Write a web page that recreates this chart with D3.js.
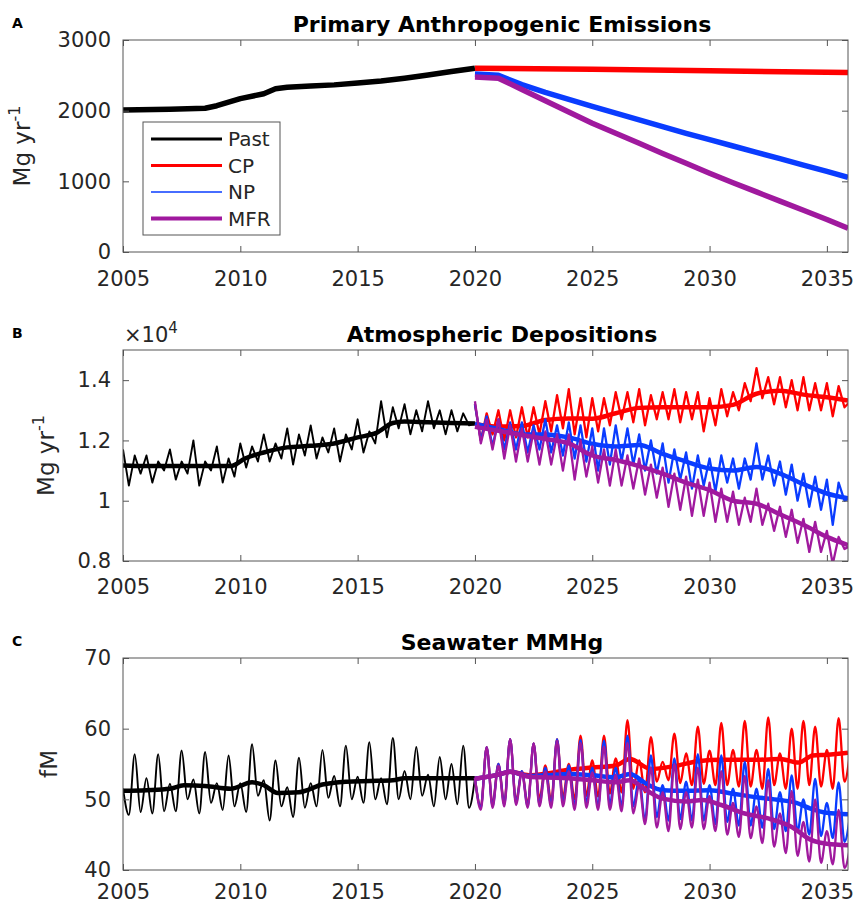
<!DOCTYPE html>
<html>
<head>
<meta charset="utf-8">
<script src="https://cdn.jsdelivr.net/npm/d3@7"></script>
<style>
  body { margin: 0; background: #fff; }
  svg text { font-family: "DejaVu Sans", sans-serif; fill: #262626; }
</style>
</head>
<body>
<svg id="chart" width="857" height="907"></svg>
<script>
// ---------------- data ----------------
var xTicks = [2005, 2010, 2015, 2020, 2025, 2030, 2035]
var xExtent = [2005, 2035.9]

var scenarioNames = ["Past", "CP", "NP", "MFR"]
var scenarioColors = ["#000000", "#ff0000", "#0a3cff", "#a0199e"]

// A: primary anthropogenic emissions, Mg/yr  [year, value]
var emisPast = [[2005,2010],[2007,2020],[2008.5,2035],[2009,2070],[2010,2170],[2011,2240],[2011.5,2310],
  [2012,2330],[2013,2350],[2014,2365],[2015,2390],[2016,2420],[2017,2460],[2018,2505],[2019,2555],[2020,2600]]
var emisCP = [[2020,2600],[2025,2585],[2030,2565],[2035.9,2540]]
var emisNP = [[2020,2520],[2021,2500],[2022,2370],[2023,2260],[2024,2160],[2025,2060],[2026,1965],[2027,1870],
  [2028,1775],[2029,1680],[2030,1590],[2031,1500],[2032,1410],[2033,1320],[2034,1230],[2035,1140],[2035.9,1055]]
var emisMFR = [[2020,2475],[2021,2460],[2022,2300],[2023,2140],[2024,1980],[2025,1822],[2026,1680],[2027,1540],
  [2028,1395],[2029,1255],[2030,1114],[2031,980],[2032,850],[2033,720],[2034,590],[2035,460],[2035.9,335]]

// B: atmospheric deposition, x10^4 Mg/yr, quarterly values (thin) and trend (thick)
var depPastQ = [
  1.17,1.05,1.15,1.09, 1.15,1.06,1.13,1.10, 1.17,1.07,1.13,1.09, 1.20,1.05,1.13,1.10,
  1.18,1.06,1.14,1.08, 1.19,1.11,1.18,1.13, 1.22,1.13,1.19,1.14, 1.24,1.12,1.22,1.15,
  1.25,1.14,1.21,1.16, 1.24,1.13,1.22,1.17, 1.27,1.16,1.23,1.19, 1.33,1.21,1.31,1.24,
  1.32,1.22,1.30,1.23, 1.33,1.24,1.30,1.22, 1.30,1.23,1.29,1.25, 1.255]
var depCPQ = [
  1.32,1.20,1.29,1.22, 1.30,1.20,1.30,1.21, 1.31,1.21,1.31,1.22, 1.33,1.23,1.35,1.24,
  1.37,1.22,1.34,1.21, 1.34,1.23,1.34,1.25, 1.36,1.27,1.36,1.26, 1.37,1.25,1.35,1.27,
  1.36,1.27,1.37,1.26, 1.36,1.27,1.36,1.23, 1.34,1.25,1.37,1.28, 1.36,1.30,1.39,1.33,
  1.44,1.34,1.41,1.32, 1.41,1.31,1.40,1.30, 1.41,1.30,1.39,1.30, 1.39,1.28,1.38,1.31, 1.33]
var depNPQ = [
  1.32,1.20,1.28,1.18, 1.27,1.17,1.26,1.17, 1.26,1.16,1.25,1.17, 1.27,1.16,1.25,1.15,
  1.26,1.14,1.25,1.13, 1.24,1.10,1.24,1.12, 1.25,1.13,1.24,1.12, 1.22,1.10,1.20,1.09,
  1.19,1.06,1.17,1.07, 1.16,1.04,1.15,1.05, 1.14,1.03,1.15,1.06, 1.14,1.04,1.14,1.07,
  1.19,1.07,1.15,1.05, 1.13,1.02,1.12,1.00, 1.09,0.98,1.08,0.97, 1.07,0.92,1.06,1.00, 1.01]
var depMFRQ = [
  1.33,1.19,1.27,1.17, 1.27,1.14,1.25,1.13, 1.24,1.13,1.23,1.12, 1.23,1.12,1.22,1.10,
  1.22,1.07,1.20,1.08, 1.18,1.06,1.17,1.05, 1.17,1.05,1.15,1.04, 1.14,1.02,1.12,1.01,
  1.11,0.98,1.09,0.97, 1.08,0.95,1.07,0.95, 1.06,0.93,1.04,0.93, 1.03,0.92,1.01,0.93,
  1.04,0.92,0.99,0.90, 0.98,0.88,0.97,0.86, 0.94,0.83,0.93,0.83, 0.90,0.79,0.88,0.84, 0.85]
var depPastT = [[2005,1.117],[2006,1.115],[2007,1.115],[2008,1.115],[2009,1.115],[2009.6,1.115],[2010.2,1.14],
  [2011,1.16],[2012,1.177],[2013,1.182],[2014,1.19],[2015,1.21],[2015.8,1.225],[2016.5,1.258],[2017,1.263],
  [2018,1.26],[2019,1.258],[2020,1.256]]
var depCPT = [[2020,1.255],[2021,1.246],[2022,1.248],[2023,1.268],[2024,1.273],[2025,1.272],[2026,1.29],
  [2027,1.308],[2028,1.31],[2029,1.31],[2030,1.31],[2031,1.318],[2032,1.355],[2033,1.365],[2034,1.352],
  [2035,1.343],[2035.9,1.332]]
var depNPT = [[2020,1.255],[2021,1.238],[2022,1.22],[2023,1.22],[2024,1.21],[2025,1.189],[2026,1.18],
  [2027,1.185],[2028,1.155],[2029,1.13],[2030,1.107],[2031,1.1],[2032,1.112],[2033,1.09],[2034,1.055],
  [2035,1.024],[2035.9,1.008]]
var depMFRT = [[2020,1.245],[2021,1.232],[2022,1.218],[2023,1.205],[2024,1.19],[2025,1.15],[2026,1.135],
  [2027,1.115],[2028,1.09],[2029,1.06],[2030,1.035],[2031,1.0],[2032,0.99],[2033,0.955],[2034,0.92],
  [2035,0.88],[2035.9,0.853]]

// C: seawater MMHg, fM
var mmhgPastQ = [
  51.5,47.8,56.4,48.2, 53.0,48.0,56.4,48.3, 52.2,48.3,56.9,50.0, 52.8,48.0,56.7,49.5,
  52.3,48.5,56.2,49.0, 52.3,48.2,57.8,50.5, 52.7,47.0,55.5,49.0, 51.7,47.5,55.9,48.8,
  52.3,49.0,57.0,50.2, 53.3,49.0,57.6,50.0, 53.2,49.5,58.1,50.0, 53.0,49.3,58.7,50.0,
  54.0,50.0,57.4,50.5, 53.5,49.0,56.0,50.0, 55.0,49.3,57.6,48.8, 53.0]
var mmhgCPQ = [
  53.0,49.0,57.4,49.3, 55.0,49.6,58.5,49.8, 54.0,49.3,57.9,50.0, 54.8,49.8,58.5,50.3,
  55.0,50.0,59.0,50.5, 55.5,50.4,59.0,50.8, 55.8,51.0,61.2,51.5, 55.5,51.0,58.8,52.5,
  55.3,52.7,59.3,52.3, 56.5,52.0,60.3,52.2, 56.9,52.0,60.8,52.0, 57.0,51.8,61.1,51.8,
  57.0,51.5,61.6,52.0, 56.5,51.5,60.0,51.5, 61.1,52.0,60.3,51.8, 57.0,51.5,61.5,52.5, 57.0]
var mmhgNPQ = [
  53.0,48.8,57.4,49.0, 55.0,49.3,58.5,49.5, 54.0,49.0,57.9,49.3, 54.5,49.2,58.5,49.5,
  54.8,49.0,58.4,49.5, 54.5,49.0,58.3,49.3, 54.5,49.0,59.0,49.0, 53.0,47.0,56.2,47.5,
  52.0,47.0,55.8,47.2, 52.5,47.0,56.4,47.0, 52.0,46.5,56.2,46.8, 51.5,46.3,55.3,46.3,
  51.5,46.0,54.3,45.8, 51.0,45.5,53.4,45.5, 50.0,45.0,52.9,44.8, 49.5,44.5,52.4,44.0, 48.0]
var mmhgMFRQ = [
  53.0,48.5,57.4,48.8, 54.8,49.0,58.5,49.2, 53.8,48.8,57.9,49.0, 54.0,48.8,58.3,49.0,
  54.0,48.5,58.0,48.8, 53.8,48.5,57.5,48.5, 53.5,48.3,58.0,48.0, 52.0,46.5,54.5,46.0,
  51.0,45.5,55.0,45.8, 51.0,46.0,54.5,45.8, 50.5,45.5,54.0,45.0, 49.5,44.7,53.3,44.5,
  49.0,43.8,52.7,43.3, 48.0,42.4,51.2,42.0, 46.8,41.2,50.0,41.0, 45.5,40.8,48.5,40.3, 43.5]
var mmhgPastT = [[2005,51.2],[2006,51.3],[2007,51.5],[2007.6,52.0],[2008.5,51.9],[2009.6,51.5],[2010.5,52.4],
  [2011,52.0],[2011.6,50.9],[2012.5,51.0],[2013.5,52.1],[2014.5,52.5],[2015.5,52.6],[2016.5,52.7],
  [2017,53.0],[2018,53.0],[2019,53.0],[2020,53.0]]
var mmhgCPT = [[2020,52.9],[2021,53.5],[2021.5,53.9],[2022.3,53.4],[2023,53.6],[2024,54.2],[2025,54.5],
  [2026,54.8],[2026.6,55.7],[2027.5,54.3],[2028.5,54.7],[2029.5,55.4],[2030.5,55.6],[2032,55.6],[2033,55.7],
  [2033.8,55.2],[2034.4,56.2],[2035,56.3],[2035.9,56.6]]
var mmhgNPT = [[2020,52.9],[2021,53.5],[2021.5,53.9],[2022.3,53.3],[2023,53.4],[2024,53.6],[2025,53.4],
  [2026,53.1],[2026.6,53.6],[2027.3,52.2],[2028,51.3],[2029,51.2],[2030,51.3],[2031,50.8],[2032,50.3],
  [2033,49.9],[2033.7,49.5],[2034.3,48.7],[2035,48.1],[2035.9,47.9]]
var mmhgMFRT = [[2020,52.9],[2021,53.5],[2021.5,53.9],[2022.3,53.2],[2023,53.1],[2024,53.0],[2025,52.7],
  [2026,52.4],[2026.6,52.7],[2027.3,51.3],[2028,50.1],[2029,49.7],[2029.7,49.9],[2030.5,49.2],[2031.5,48.0],
  [2032.5,47.3],[2033.5,46.1],[2034.3,44.3],[2035,43.7],[2035.9,43.5]]

// ---------------- layout ----------------
var svg = d3.select('#chart')
var left = 123, right = 848
var x = d3.scaleLinear().domain(xExtent).range([left, right])

// quarterly series -> [year, value]
function quarterly(start, values) {
  return values.map(function(v, i) { return [start + i / 4, v] })
}

var panels = [
  { label: 'A', title: 'Primary Anthropogenic Emissions', top: 40, bottom: 252,
    yDomain: [0, 3000], yTicks: [0, 1000, 2000, 3000], yLabel: 'Mg yr', sup: '-1', yLabelX: 30,
    thin: [], curve: d3.curveLinear, xPad: 19,
    thick: [emisPast, emisCP, emisNP, emisMFR], thickW: 5.5, legend: true },
  { label: 'B', title: 'Atmospheric Depositions', top: 350, bottom: 561,
    yDomain: [0.8, 1.5], yTicks: [0.8, 1, 1.2, 1.4], yLabel: 'Mg yr', sup: '-1', yLabelX: 54, exponent: true,
    thin: [quarterly(2005, depPastQ), quarterly(2020, depCPQ), quarterly(2020, depNPQ), quarterly(2020, depMFRQ)],
    thinCurve: d3.curveLinear, curve: d3.curveMonotoneX, xPad: 18,
    thick: [depPastT, depCPT, depNPT, depMFRT], thickW: 4.5 },
  { label: 'C', title: 'Seawater MMHg', top: 658, bottom: 870,
    yDomain: [40, 70], yTicks: [40, 50, 60, 70], yLabel: 'fM', yLabelX: 57,
    thin: [quarterly(2005, mmhgPastQ), quarterly(2020, mmhgCPQ), quarterly(2020, mmhgNPQ), quarterly(2020, mmhgMFRQ)],
    thinCurve: d3.curveMonotoneX, curve: d3.curveMonotoneX, xPad: 14,
    thick: [mmhgPastT, mmhgCPT, mmhgNPT, mmhgMFRT], thickW: 4.5 }
]

panels.forEach(drawPanel)

function drawPanel(p, idx) {
  var g = svg.append('g')
  var y = d3.scaleLinear().domain(p.yDomain).range([p.bottom, p.top])

  var clipId = 'clip' + idx
  g.append('clipPath').attr('id', clipId)
    .append('rect')
      .attr('x', left).attr('y', p.top)
      .attr('width', right - left).attr('height', p.bottom - p.top)

  var plot = g.append('g').attr('clip-path', 'url(#' + clipId + ')')

  // draw per scenario: thin seasonal line, then its thick trend
  scenarioNames.forEach(function(name, i) {
    if (p.thin.length) {
      plot.append('path')
        .datum(p.thin[i])
        .attr('fill', 'none')
        .attr('stroke', scenarioColors[i])
        .attr('stroke-width', i === 0 ? 1.9 : 2.3)
        .attr('stroke-linejoin', 'round')
        .attr('d', d3.line().x(d => x(d[0])).y(d => y(d[1])).curve(p.thinCurve))
    }
    plot.append('path')
      .datum(p.thick[i])
      .attr('fill', 'none')
      .attr('stroke', scenarioColors[i])
      .attr('stroke-width', p.thickW)
      .attr('stroke-linejoin', 'round')
      .attr('d', d3.line().x(d => x(d[0])).y(d => y(d[1])).curve(p.curve))
  })

  // axes, MATLAB style: ticks inside, box all round
  var fmt = d3.format('~g')
  var xb = g.append('g').attr('transform', 'translate(0,' + p.bottom + ')')
    .call(d3.axisBottom(x).tickValues(xTicks).tickSize(-6).tickPadding(p.xPad).tickFormat(d3.format('d')))
  var xt = g.append('g').attr('transform', 'translate(0,' + p.top + ')')
    .call(d3.axisTop(x).tickValues(xTicks).tickSize(-6).tickFormat(''))
  var yl = g.append('g').attr('transform', 'translate(' + left + ',0)')
    .call(d3.axisLeft(y).tickValues(p.yTicks).tickSize(-6).tickPadding(12).tickFormat(fmt))
  var yr = g.append('g').attr('transform', 'translate(' + right + ',0)')
    .call(d3.axisRight(y).tickValues(p.yTicks).tickSize(-6).tickFormat(''))

  ;[xb, xt, yl, yr].forEach(function(a) {
    a.select('.domain').remove()
    a.selectAll('line').attr('stroke', '#555')
    a.selectAll('text').attr('font-size', 21).attr('font-family', null).attr('fill', '#262626')
  })

  g.append('rect')
    .attr('x', left).attr('y', p.top)
    .attr('width', right - left).attr('height', p.bottom - p.top)
    .attr('fill', 'none').attr('stroke', '#555').attr('stroke-width', 1)

  // title and panel letter
  g.append('text')
    .attr('x', 502).attr('y', p.top - 8)
    .attr('text-anchor', 'middle')
    .attr('font-size', 22).attr('font-weight', 'bold')
    .style('fill', '#000')
    .text(p.title)

  g.append('text')
    .attr('x', 12).attr('y', p.top - 12)
    .attr('font-size', 14).attr('font-weight', 'bold')
    .style('fill', '#000')
    .text(p.label)

  // y label
  var lab = g.append('text')
    .attr('transform', 'translate(' + p.yLabelX + ',' + ((p.top + p.bottom) / 2) + ') rotate(-90)')
    .attr('text-anchor', 'middle')
    .attr('font-size', 23)
  lab.append('tspan').text(p.yLabel)
  if (p.sup) {
    lab.append('tspan').attr('dy', -10).attr('font-size', 16).text(p.sup)
  }

  if (p.exponent) {
    var ex = g.append('text').attr('x', 124).attr('y', p.top - 8).attr('font-size', 21)
    ex.append('tspan').text('\u00d710')
    ex.append('tspan').attr('dy', -9).attr('font-size', 15).text('4')
  }

  if (p.legend) drawLegend(g)
}

function drawLegend(g) {
  var lx = 143, ly = 122, lw = 137, lh = 113
  var legendWidths = [3, 3, 1.6, 4]
  var lg = g.append('g')
  lg.append('rect')
    .attr('x', lx).attr('y', ly).attr('width', lw).attr('height', lh)
    .attr('fill', '#fff').attr('stroke', '#555').attr('stroke-width', 1)
  scenarioNames.forEach(function(name, i) {
    var cy = ly + 17 + i * 26.5
    lg.append('line')
      .attr('x1', lx + 8).attr('x2', lx + 79)
      .attr('y1', cy).attr('y2', cy)
      .attr('stroke', scenarioColors[i])
      .attr('stroke-width', legendWidths[i])
    lg.append('text')
      .attr('x', lx + 85).attr('y', cy)
      .attr('dy', '0.36em')
      .attr('font-size', 20)
      .text(name)
  })
}
</script>
</body>
</html>
